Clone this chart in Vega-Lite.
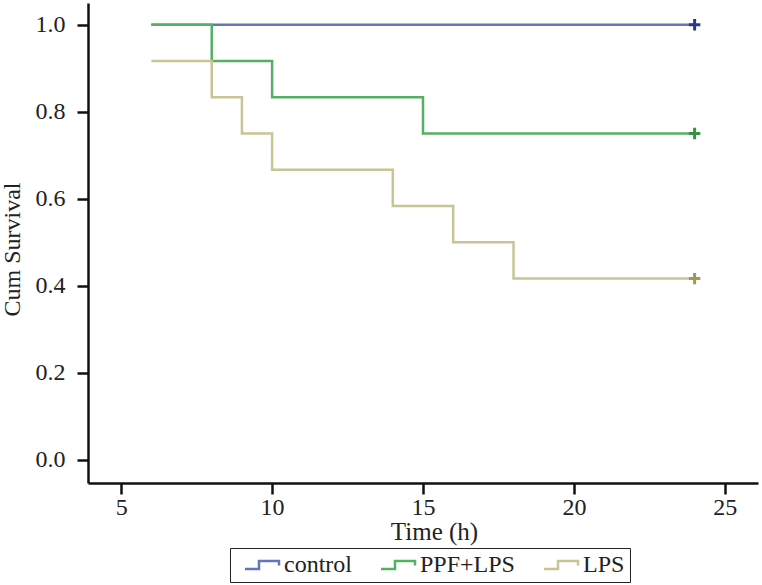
{
  "$schema": "https://vega.github.io/schema/vega-lite/v6.json",
  "width": 670,
  "height": 480,
  "autosize": "none",
  "padding": {"left": 88, "top": 3, "right": 4, "bottom": 102},
  "config": {
    "font": "Liberation Serif",
    "view": {"stroke": null},
    "axis": {
      "grid": false,
      "domainColor": "#111",
      "domainWidth": 2.5,
      "tickColor": "#111",
      "tickWidth": 2.5,
      "tickSize": 11,
      "labelFont": "Liberation Serif",
      "labelFontSize": 24,
      "labelColor": "#222",
      "titleFont": "Liberation Serif",
      "titleFontSize": 25,
      "titleFontWeight": "normal",
      "titleColor": "#222"
    },
    "legend": {
      "labelFont": "Liberation Serif",
      "labelFontSize": 24,
      "labelColor": "#222"
    }
  },
  "datasets": {
    "curves": [
      {"group": "control", "time": 6, "survival": 1.0},
      {"group": "control", "time": 24, "survival": 1.0},
      {"group": "PPF+LPS", "time": 6, "survival": 1.0},
      {"group": "PPF+LPS", "time": 8, "survival": 0.9167},
      {"group": "PPF+LPS", "time": 10, "survival": 0.8333},
      {"group": "PPF+LPS", "time": 15, "survival": 0.75},
      {"group": "PPF+LPS", "time": 24, "survival": 0.75},
      {"group": "LPS", "time": 6, "survival": 0.9167},
      {"group": "LPS", "time": 8, "survival": 0.8333},
      {"group": "LPS", "time": 9, "survival": 0.75},
      {"group": "LPS", "time": 10, "survival": 0.6667},
      {"group": "LPS", "time": 14, "survival": 0.5833},
      {"group": "LPS", "time": 16, "survival": 0.5},
      {"group": "LPS", "time": 18, "survival": 0.4167},
      {"group": "LPS", "time": 24, "survival": 0.4167}
    ],
    "censor": [
      {"group": "control", "time": 24, "survival": 1.0},
      {"group": "PPF+LPS", "time": 24, "survival": 0.75},
      {"group": "LPS", "time": 24, "survival": 0.4167}
    ]
  },
  "layer": [
    {
      "data": {"name": "curves"},
      "mark": {"type": "line", "interpolate": "step-after", "strokeWidth": 2.5},
      "encoding": {
        "x": {
          "field": "time",
          "type": "quantitative",
          "scale": {"domain": [3.9, 26.1], "nice": false, "zero": false},
          "axis": {"values": [5, 10, 15, 20, 25], "title": "Time (h)", "labelPadding": 1, "titleX": 346, "titleY": 56, "titleBaseline": "alphabetic", "titleAlign": "center"}
        },
        "y": {
          "field": "survival",
          "type": "quantitative",
          "scale": {"domain": [-0.053, 1.05], "nice": false},
          "axis": {"values": [0, 0.2, 0.4, 0.6, 0.8, 1.0], "format": ".1f", "title": "Cum Survival", "titleFontSize": 24, "labelPadding": 12, "titleX": -69, "titleY": 246, "titleAngle": 270, "titleBaseline": "alphabetic", "titleAlign": "center"}
        },
        "color": {
          "field": "group",
          "type": "nominal",
          "sort": ["control", "PPF+LPS", "LPS"],
          "scale": {"domain": ["control", "PPF+LPS", "LPS"], "range": ["#6676b5", "#55b065", "#c9c494"]},
          "legend": {
            "title": null,
            "orient": "none",
            "legendX": 142,
            "legendY": 545,
            "direction": "horizontal",
            "strokeColor": "#222",
            "padding": 5,
            "symbolType": "M-0.2,0.4L1.2,0.4L1.2,-0.4L3.2,-0.4L3.2,0.05",
            "symbolSize": 400,
            "symbolStrokeWidth": 2.5,
            "symbolFillColor": "transparent",
            "columnPadding": 19,
            "labelOffset": 25
          }
        }
      }
    },
    {
      "data": {"name": "censor"},
      "mark": {"type": "point", "shape": "M-1,0L1,0M0,-1L0,1", "size": 130, "strokeWidth": 3, "filled": false, "opacity": 1},
      "encoding": {
        "x": {"field": "time", "type": "quantitative"},
        "y": {"field": "survival", "type": "quantitative"},
        "stroke": {
          "field": "group",
          "type": "nominal",
          "scale": {"domain": ["control", "PPF+LPS", "LPS"], "range": ["#2b3a85", "#3a9045", "#9c9a55"]},
          "legend": null
        }
      }
    }
  ]
}
